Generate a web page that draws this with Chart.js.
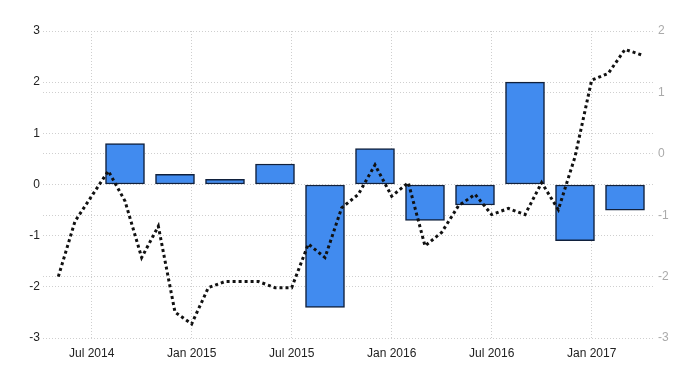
<!DOCTYPE html>
<html>
<head>
<meta charset="utf-8">
<script src="https://cdn.jsdelivr.net/npm/chart.js@4.4.0/dist/chart.umd.min.js"></script>
<style>
  html, body { margin: 0; padding: 0; background: #fff; }
  #wrap { width: 700px; height: 375px; }
</style>
</head>
<body>
<div id="wrap"><canvas id="chart"></canvas></div>
<script>
const months = [
  'May 2014', 'Jun 2014', 'Jul 2014', 'Aug 2014', 'Sep 2014', 'Oct 2014', 'Nov 2014', 'Dec 2014',
  'Jan 2015', 'Feb 2015', 'Mar 2015', 'Apr 2015', 'May 2015', 'Jun 2015', 'Jul 2015', 'Aug 2015',
  'Sep 2015', 'Oct 2015', 'Nov 2015', 'Dec 2015', 'Jan 2016', 'Feb 2016', 'Mar 2016', 'Apr 2016',
  'May 2016', 'Jun 2016', 'Jul 2016', 'Aug 2016', 'Sep 2016', 'Oct 2016', 'Nov 2016', 'Dec 2016',
  'Jan 2017', 'Feb 2017', 'Mar 2017', 'Apr 2017'
];
const lineValues = [
  -2.0, -1.1, -0.69, -0.28, -0.77, -1.69, -1.18, -2.58,
  -2.77, -2.18, -2.08, -2.08, -2.08, -2.18, -2.18, -1.47,
  -1.69, -0.88, -0.66, -0.18, -0.69, -0.47, -1.5, -1.28,
  -0.85, -0.66, -0.99, -0.89, -0.99, -0.47, -0.91, -0.05,
  1.2, 1.31, 1.7, 1.61
];
const barMonths = ['Sep 2014', 'Dec 2014', 'Mar 2015', 'Jun 2015', 'Sep 2015', 'Dec 2015',
  'Mar 2016', 'Jun 2016', 'Sep 2016', 'Dec 2016', 'Mar 2017'];
const barValues = [0.8, 0.2, 0.1, 0.4, -2.4, 0.7, -0.7, -0.4, 2.0, -1.1, -0.5];
const tickLabels = ['Jul 2014', 'Jan 2015', 'Jul 2015', 'Jan 2016', 'Jul 2016', 'Jan 2017'];

const font = "'Liberation Sans', Arial, sans-serif";
const gridColor = '#cfcfcf';

new Chart(document.getElementById('chart'), {
  data: {
    datasets: [
      {
        type: 'line',
        data: lineValues.map((v, i) => ({ x: i, y: v })),
        yAxisID: 'y2',
        borderColor: '#111',
        borderWidth: 3,
        borderDash: [3, 3],
        pointRadius: 0,
        tension: 0,
        fill: false,
        order: 0
      },
      {
        type: 'bar',
        data: barValues.map((v, i) => ({ x: months.indexOf(barMonths[i]), y: v })),
        yAxisID: 'y',
        backgroundColor: '#418BEF',
        borderColor: '#10203c',
        borderWidth: 1.5,
        borderSkipped: false,
        barThickness: 39,
        order: 1
      }
    ]
  },
  options: {
    responsive: true,
    maintainAspectRatio: false,
    animation: false,
    devicePixelRatio: 1,
    layout: { padding: { top: 31, bottom: 0, left: 0, right: 0 } },
    plugins: { legend: { display: false }, tooltip: { enabled: false } },
    scales: {
      x: {
        type: 'linear',
        offset: false,
        min: -0.92,
        max: 35.8,
        afterBuildTicks: (scale) => {
          scale.ticks = tickLabels.map(l => ({ value: months.indexOf(l) }));
        },
        afterFit: (scale) => { scale.height = 37; },
        ticks: {
          callback: (v) => months[v],
          color: '#222',
          font: { family: font, size: 12 },
          padding: 8,
          maxRotation: 0,
          autoSkip: false
        },
        grid: { color: gridColor, lineWidth: 1, drawTicks: false, offset: false },
        border: { display: false, dash: [1, 2] }
      },
      y: {
        position: 'left',
        min: -3,
        max: 3,
        afterFit: (scale) => { scale.width = 43; },
        ticks: {
          stepSize: 1,
          color: '#222',
          font: { family: font, size: 12 },
          padding: 3
        },
        grid: { color: gridColor, lineWidth: 1, drawTicks: false },
        border: { display: false, dash: [1, 2] }
      },
      y2: {
        position: 'right',
        min: -3,
        max: 2,
        afterFit: (scale) => { scale.width = 45; },
        ticks: {
          stepSize: 1,
          color: '#aaa',
          font: { family: font, size: 12 },
          padding: 3
        },
        grid: { color: gridColor, lineWidth: 1, drawTicks: false, drawOnChartArea: true },
        border: { display: false, dash: [1, 2] }
      }
    }
  }
});
</script>
</body>
</html>
